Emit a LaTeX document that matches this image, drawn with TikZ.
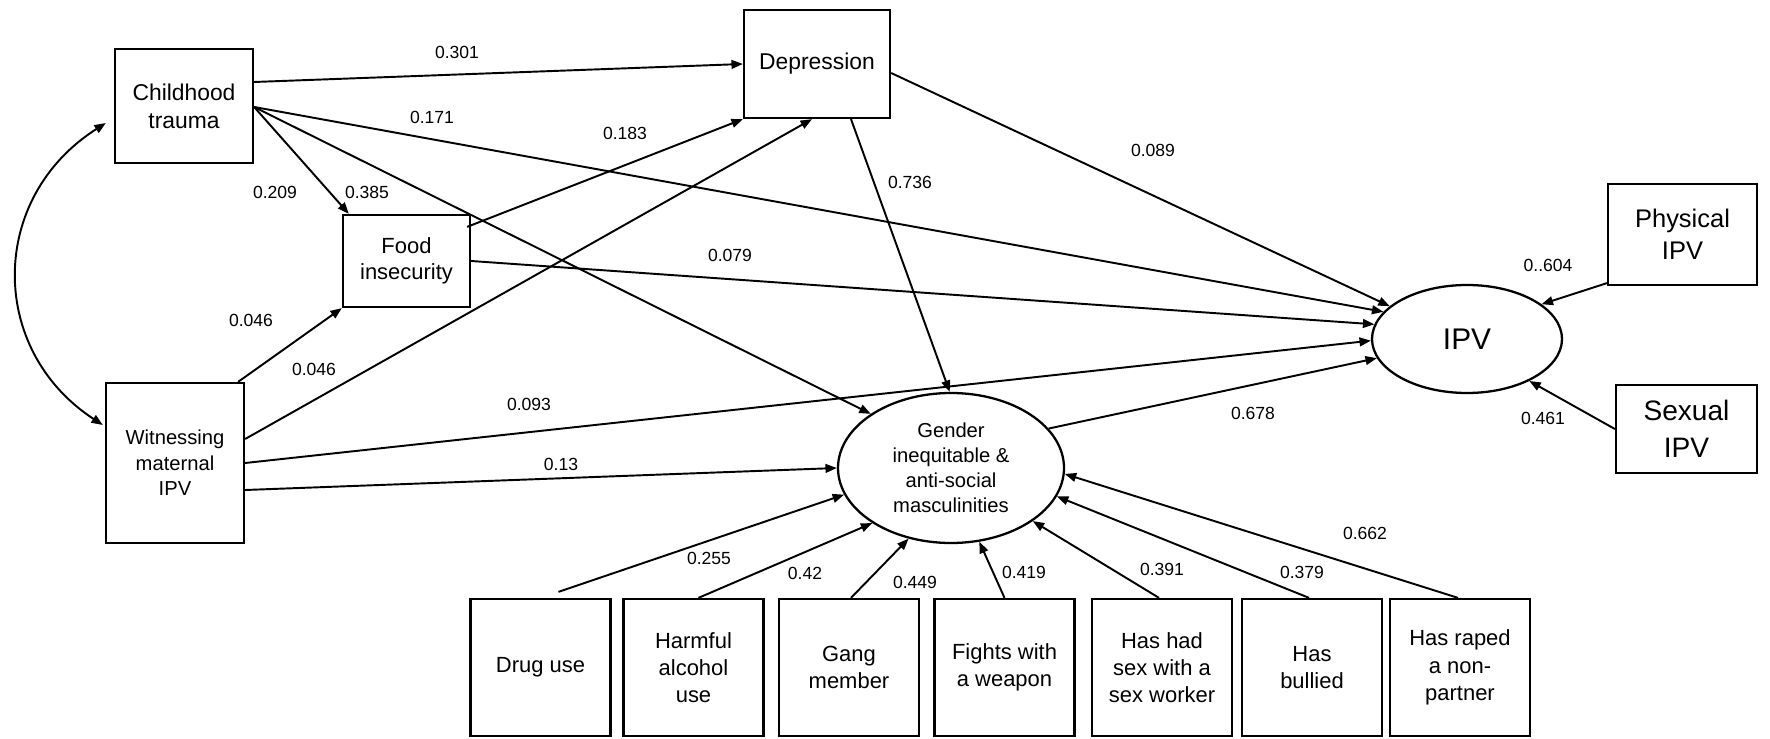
\documentclass[tikz,border=0pt]{standalone}
\usepackage{fontspec}
\setmainfont{Liberation Sans}
\usetikzlibrary{calc,arrows.meta,shapes.geometric}
\begin{document}
\begin{tikzpicture}[x=0.02cm,y=-0.02cm,
  wh/.style 2 args={minimum width=#1*0.02cm,minimum height=#2*0.02cm},
  box/.style={draw,line width=1.3pt,inner sep=0pt,align=center,rectangle},
  ell/.style={draw,line width=1.3pt,inner sep=0pt,align=center,ellipse},
  arr/.style={-{Triangle[length=6.5pt,width=5pt]},line width=1.1pt},
  lab/.style={font=\fontsize{10}{12}\selectfont,inner sep=0pt},
  fbox/.style={font=\fontsize{13}{16}\selectfont},
  bbox/.style={box,wh={140}{137},font=\fontsize{12.5}{15.5}\selectfont}]
\useasboundingbox (0,0) rectangle (1770,739);

% nodes
\node[box,wh={138}{114},fbox] (CT) at (184,106) {Childhood\\trauma};
\node[box,wh={127}{92},font=\fontsize{12.5}{14.5}\selectfont] (FI) at (406.5,261) {Food\\insecurity};
\node[box,wh={146}{108},fbox] (Dep) at (817,64) {Depression};
\node[box,wh={138}{160},font=\fontsize{11.5}{14.5}\selectfont] (Wit) at (175,463) {Witnessing\\maternal\\IPV};
\node[ell,wh={226}{150},font=\fontsize{11.5}{14.3}\selectfont] (Gen) at (951,468) {Gender\\inequitable \&\\anti-social\\masculinities};
\node[ell,wh={190}{108},font=\fontsize{17}{20}\selectfont] (IPV) at (1467,339) {IPV};
\node[box,wh={149}{101},font=\fontsize{14.5}{18.3}\selectfont] (Phys) at (1682.5,234.5) {Physical\\IPV};
\node[box,wh={141}{88},font=\fontsize{16}{21}\selectfont] (Sex) at (1686.5,429) {Sexual\\IPV};

\node[bbox] (Drug) at (540.5,667.5) {Drug use};
\node[bbox] (Alc) at (693.5,667.5) {Harmful\\alcohol\\use};
\node[bbox] (Gang) at (849,667.5) {Gang\\member};
\node[bbox] (Fight) at (1004.5,667.5) {Fights with\\a weapon};
\node[bbox] (SexW) at (1162,667.5) {Has had\\sex with a\\sex worker};
\node[bbox] (Bully) at (1312,667.5) {Has\\bullied};
\node[bbox] (Rape) at (1460,667.5) {Has raped\\a non-\\partner};

% connectors
\draw[arr] ($(CT.east)+(0,-24)$) -- (Dep.west);
\draw[arr] ($(CT.east)+(0,1)$) -- (IPV.162.6);
\draw[arr] ($(CT.east)+(0,1)$) -- ($(FI.north west)+(7,0)$);
\draw[arr] ($(CT.east)+(0,1)$) -- (Gen.146.5);
\draw[arr] ($(FI.north east)+(-4,13)$) -- (Dep.south west);
\draw[arr] (FI.east) -- (IPV.171.3);
\draw[arr] ($(Wit.north east)+(-7,0)$) -- (FI.south west);
\draw[arr] ($(Wit.east)+(0,-24)$) -- ($(Dep.south)+(-5,0)$);
\draw[arr] (Wit.east) -- (IPV.181);
\draw[arr] ($(Wit.east)+(0,27)$) -- (Gen.180);
\draw[arr] ($(Dep.south)+(34,0)$) -- (Gen.91);
\draw[arr] ($(Dep.east)+(0,9)$) -- (IPV.157.4);
\draw[arr] (Gen.22) -- (IPV.192);
\draw[arr] ($(Phys.south west)+(0,-3)$) -- (IPV.25);
\draw[arr] (Sex.west) -- (IPV.326.5);

\draw[arr] ($(Drug.north)+(18,-6)$) -- (Gen.194.4);
\draw[arr] ($(Alc.north)+(5,0)$) -- (Gen.215.5);
\draw[arr] ($(Gang.north)+(2,0)$) -- (Gen.239.6);
\draw[arr] (Fight.north) -- (Gen.291);
\draw[arr] ($(SexW.north)+(-3,0)$) -- (Gen.327.3);
\draw[arr] ($(Bully.north)+(-3,0)$) -- (Gen.345.6);
\draw[arr] ($(Rape.north)+(-2,0)$) -- (Gen.357);

% correlation
\draw[{Triangle[length=6.5pt,width=5pt]}-{Triangle[length=6.5pt,width=5pt]},line width=1.1pt]
  ($(Wit.west)+(-2,-38)$) .. controls (-12,350) and (-12,198) .. ($(CT.west)+(-8,17)$);

% labels
\node[lab] (l1) at (457,52) {0.301};
\node[lab] (l2) at (432,117) {0.171};
\node[lab] (l3) at (275,192) {0.209};
\node[lab] (l4) at (367,192) {0.385};
\node[lab] (l5) at (625,133) {0.183};
\node[lab] (l6) at (910,182) {0.736};
\node[lab] (l7) at (1153,150) {0.089};
\node[lab] (l8) at (730,255) {0.079};
\node[lab] (l9) at (251,320) {0.046};
\node[lab] (l10) at (314,369) {0.046};
\node[lab] (l11) at (529,404) {0.093};
\node[lab] (l12) at (561,464) {0.13};
\node[lab] (l13) at (1253,413) {0.678};
\node[lab] (l14) at (1548,265) {0..604};
\node[lab] (l15) at (1543,418) {0.461};
\node[lab] (l16) at (709,558) {0.255};
\node[lab] (l17) at (805,573) {0.42};
\node[lab] (l18) at (915,582) {0.449};
\node[lab] (l19) at (1024,572) {0.419};
\node[lab] (l20) at (1162,569) {0.391};
\node[lab] (l21) at (1302,572) {0.379};
\node[lab] (l22) at (1365,533) {0.662};
\end{tikzpicture}
\end{document}
